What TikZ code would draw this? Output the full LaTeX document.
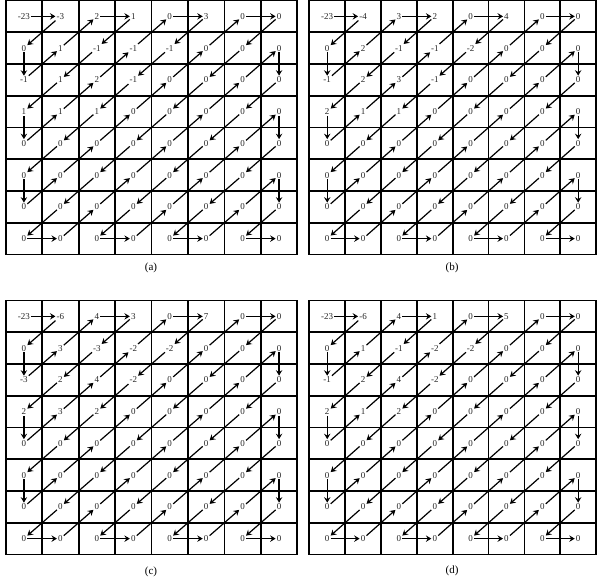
\documentclass[tikz,border=0pt]{standalone}
\usepackage{fontspec}
\setmainfont{Liberation Serif}
\usetikzlibrary{arrows.meta}

% zigzag order of the 8x8 cells (row/column), the first cell 0/0 left out
\def\zzorder{0/1,1/0,2/0,1/1,0/2,0/3,1/2,2/1,3/0,4/0,3/1,2/2,1/3,0/4,%
0/5,1/4,2/3,3/2,4/1,5/0,6/0,5/1,4/2,3/3,2/4,1/5,0/6,%
0/7,1/6,2/5,3/4,4/3,5/2,6/1,7/0,7/1,6/2,5/3,4/4,3/5,2/6,1/7,%
2/7,3/6,4/5,5/4,6/3,7/2,7/3,6/4,5/5,4/6,3/7,%
4/7,5/6,6/5,7/4,7/5,6/6,5/7,6/7,7/6,7/7}

\tikzset{
    gridline/.style={line width=1.8pt, black, line cap=rect},
    coef/.style={font=\fontsize{9}{10}\selectfont, text=black!85, inner sep=1pt},
    zzarrow/.style={-{Stealth[length=5.5pt,width=6.5pt,inset=2pt]}, line width=1.2pt, black},
    panellabel/.style={font=\fontsize{11}{12}\selectfont, inner sep=0pt}
}

% one panel: name, left x, top y, column width, rows of values
\newcommand{\zzpanel}[5]{%
  \begin{scope}[shift={(#2pt,-#3pt)}, x=#4pt, y=-31.75pt]
    \foreach \i in {0,...,8} {
      \draw[gridline] (\i,0) -- (\i,8);
      \draw[gridline] (0,\i) -- (8,\i);
    }
    \foreach \rowvals [count=\ri from 0] in {#5} {
      \foreach \v [count=\ci from 0] in \rowvals
        \node[coef] (#1-\ri-\ci) at (\ci+0.5,\ri+0.5) {\v};
    }
    \foreach \rr/\cc [remember=\rr as \pr (initially 0), remember=\cc as \pc (initially 0)] in \zzorder
      \draw[zzarrow] (#1-\pr-\pc) -- (#1-\rr-\cc);
  \end{scope}%
}

\begin{document}
\begin{tikzpicture}
\useasboundingbox (0pt,0pt) rectangle (597pt,-583pt);

% four panels
\zzpanel{a}{5.7}{0.5}{36.45}{{-23,-3,2,1,0,3,0,0},{0,1,-1,-1,-1,0,0,0},{-1,1,2,-1,0,0,0,0},{1,1,1,0,0,0,0,0},
  {0,0,0,0,0,0,0,0},{0,0,0,0,0,0,0,0},{0,0,0,0,0,0,0,0},{0,0,0,0,0,0,0,0}}
\zzpanel{b}{309.3}{0.5}{35.85}{{-23,-4,3,2,0,4,0,0},{0,2,-1,-1,-2,0,0,0},{-1,2,3,-1,0,0,0,0},{2,1,1,0,0,0,0,0},
  {0,0,0,0,0,0,0,0},{0,0,0,0,0,0,0,0},{0,0,0,0,0,0,0,0},{0,0,0,0,0,0,0,0}}
\zzpanel{c}{5.7}{300.5}{36.45}{{-23,-6,4,3,0,7,0,0},{0,3,-3,-2,-2,0,0,0},{-3,2,4,-2,0,0,0,0},{2,3,2,0,0,0,0,0},
  {0,0,0,0,0,0,0,0},{0,0,0,0,0,0,0,0},{0,0,0,0,0,0,0,0},{0,0,0,0,0,0,0,0}}
\zzpanel{d}{309.3}{300.5}{35.85}{{-23,-6,4,1,0,5,0,0},{0,1,-1,-2,-2,0,0,0},{-1,2,4,-2,0,0,0,0},{2,1,2,0,0,0,0,0},
  {0,0,0,0,0,0,0,0},{0,0,0,0,0,0,0,0},{0,0,0,0,0,0,0,0},{0,0,0,0,0,0,0,0}}

% captions
\node[panellabel] (lab-a) at (151pt,-268pt) {(a)};
\node[panellabel] (lab-b) at (452pt,-268pt) {(b)};
\node[panellabel] (lab-c) at (151pt,-572pt) {(c)};
\node[panellabel] (lab-d) at (452pt,-571pt) {(d)};

\end{tikzpicture}
\end{document}
